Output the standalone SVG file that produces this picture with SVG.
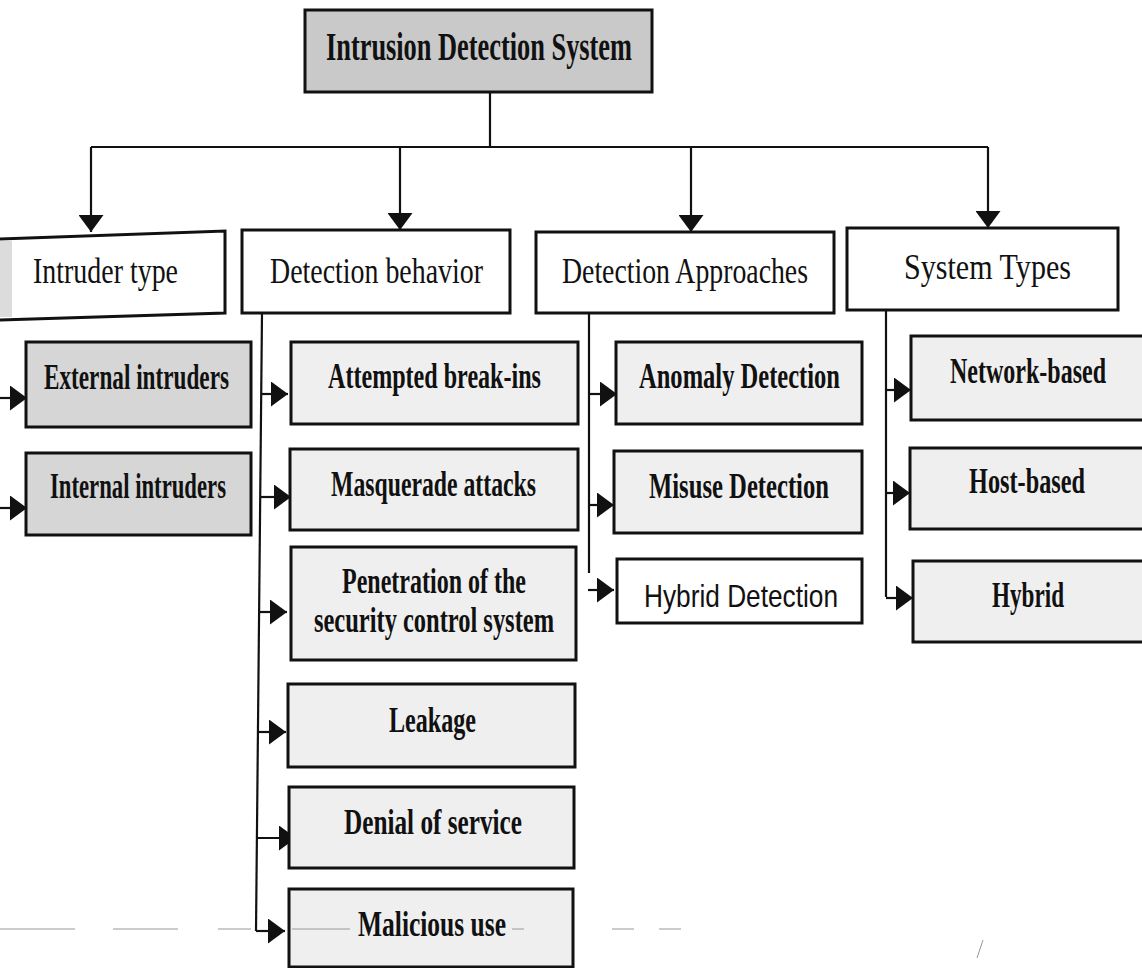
<svg xmlns="http://www.w3.org/2000/svg" width="1142" height="968" viewBox="0 0 1142 968">
<style>
.box{stroke:#111;stroke-width:3;}
.edge{fill:none;stroke:#111;stroke-width:3;}
.top{fill:#c9c9c9;}
.lvl2{fill:#ffffff;}
.gray{fill:#d6d6d6;}
.light{fill:#efefef;}
.t{font-family:"Liberation Serif","Times New Roman",serif;fill:#111;}
.b{font-weight:bold;}
.s{font-family:"Liberation Sans",Arial,sans-serif;fill:#111;}
.c{fill:none;stroke:#111;stroke-width:2.2;}
.scan{fill:none;stroke:#999;stroke-width:1;}
</style>
<defs>
<marker id="ah" markerUnits="userSpaceOnUse" markerWidth="18" markerHeight="25" refX="17" refY="12.5" orient="auto">
<path d="M0,0 L17,12.5 L0,25 z" fill="#111"/>
</marker>
</defs>
<rect width="1142" height="968" fill="#ffffff"/>

<g id="connectors">
<path class="c" d="M490,92 V147 M91,147 H988"/>
<path class="c" d="M91,147 V232" marker-end="url(#ah)"/>
<path class="c" d="M400,147 V230" marker-end="url(#ah)"/>
<path class="c" d="M691,147 V232" marker-end="url(#ah)"/>
<path class="c" d="M988,147 V228" marker-end="url(#ah)"/>
<path class="c" d="M0,398 H27" marker-end="url(#ah)"/>
<path class="c" d="M0,508 H27" marker-end="url(#ah)"/>
<path class="c" d="M262,313 L256,931"/>
<path class="c" d="M262,394 H288" marker-end="url(#ah)"/>
<path class="c" d="M261,497 H291" marker-end="url(#ah)"/>
<path class="c" d="M260,612 H287" marker-end="url(#ah)"/>
<path class="c" d="M259,732 H286" marker-end="url(#ah)"/>
<path class="c" d="M258,838 H296" marker-end="url(#ah)"/>
<path class="c" d="M256,931 H285" marker-end="url(#ah)"/>
<path class="c" d="M589,313 V573"/>
<path class="c" d="M589,394 H617" marker-end="url(#ah)"/>
<path class="c" d="M589,505 H614" marker-end="url(#ah)"/>
<path class="c" d="M588,590 H614" marker-end="url(#ah)"/>
<path class="c" d="M886,310 V597"/>
<path class="c" d="M886,390 H911" marker-end="url(#ah)"/>
<path class="c" d="M886,493 H910" marker-end="url(#ah)"/>
<path class="c" d="M886,598 H913" marker-end="url(#ah)"/>
</g>

<g id="ids">
<rect class="box top" x="305" y="10" width="347" height="82"/>
<text class="t b" x="326" y="60" font-size="40" textLength="306" lengthAdjust="spacingAndGlyphs">Intrusion Detection System</text>
</g>

<g id="intruder-type">
<polygon class="box lvl2" points="-3,239 225,231 225,313 -3,320"/>
<rect x="0" y="241" width="12" height="76" fill="#dcdcdc"/>
<text class="t" x="33" y="283" font-size="35" textLength="145" lengthAdjust="spacingAndGlyphs">Intruder type</text>
</g>
<g id="detection-behavior">
<rect class="box lvl2" x="242" y="230" width="268" height="83"/>
<text class="t" x="270" y="283" font-size="35" textLength="213" lengthAdjust="spacingAndGlyphs">Detection behavior</text>
</g>
<g id="detection-approaches">
<rect class="box lvl2" x="536" y="232" width="298" height="81"/>
<text class="t" x="562" y="283" font-size="35" textLength="246" lengthAdjust="spacingAndGlyphs">Detection Approaches</text>
</g>
<g id="system-types">
<rect class="box lvl2" x="847" y="228" width="271" height="82"/>
<text class="t" x="904" y="279" font-size="35" textLength="167" lengthAdjust="spacingAndGlyphs">System Types</text>
</g>

<g id="external-intruders">
<rect class="box gray" x="26" y="342" width="225" height="85"/>
<text class="t b" x="44" y="389" font-size="35" textLength="185" lengthAdjust="spacingAndGlyphs">External intruders</text>
</g>
<g id="internal-intruders">
<rect class="box gray" x="26" y="453" width="225" height="82"/>
<text class="t b" x="50" y="498" font-size="35" textLength="176" lengthAdjust="spacingAndGlyphs">Internal intruders</text>
</g>

<g id="attempted-break-ins">
<rect class="box light" x="291" y="342" width="287" height="82"/>
<text class="t b" x="328" y="388" font-size="35" textLength="213" lengthAdjust="spacingAndGlyphs">Attempted break-ins</text>
</g>
<g id="masquerade-attacks">
<rect class="box light" x="290" y="449" width="288" height="81"/>
<text class="t b" x="331" y="496" font-size="35" textLength="205" lengthAdjust="spacingAndGlyphs">Masquerade attacks</text>
</g>
<g id="penetration">
<rect class="box light" x="291" y="547" width="285" height="113"/>
<text class="t b" x="342" y="593" font-size="35" textLength="184" lengthAdjust="spacingAndGlyphs">Penetration of the</text>
<text class="t b" x="314" y="632" font-size="35" textLength="240" lengthAdjust="spacingAndGlyphs">security control system</text>
</g>
<g id="leakage">
<rect class="box light" x="288" y="684" width="287" height="83"/>
<text class="t b" x="389" y="732" font-size="35" textLength="87" lengthAdjust="spacingAndGlyphs">Leakage</text>
</g>
<g id="denial-of-service">
<rect class="box light" x="289" y="787" width="285" height="81"/>
<text class="t b" x="344" y="834" font-size="35" textLength="178" lengthAdjust="spacingAndGlyphs">Denial of service</text>
</g>
<g id="malicious-use">
<rect class="box light" x="289" y="889" width="284" height="78"/>
<text class="t b" x="358" y="936" font-size="35" textLength="148" lengthAdjust="spacingAndGlyphs">Malicious use</text>
</g>

<g id="anomaly-detection">
<rect class="box light" x="616" y="342" width="246" height="82"/>
<text class="t b" x="639" y="388" font-size="35" textLength="201" lengthAdjust="spacingAndGlyphs">Anomaly Detection</text>
</g>
<g id="misuse-detection">
<rect class="box light" x="614" y="451" width="248" height="82"/>
<text class="t b" x="649" y="498" font-size="35" textLength="180" lengthAdjust="spacingAndGlyphs">Misuse Detection</text>
</g>
<g id="hybrid-detection">
<rect class="box lvl2" x="617" y="559" width="245" height="64"/>
<text class="s" x="644" y="607" font-size="32" textLength="194" lengthAdjust="spacingAndGlyphs">Hybrid Detection</text>
</g>

<g id="network-based">
<rect class="light" x="911" y="336" width="231" height="84"/>
<path class="edge" d="M1142,336 H911 V420 H1142"/>
<text class="t b" x="950" y="383" font-size="35" textLength="156" lengthAdjust="spacingAndGlyphs">Network-based</text>
</g>
<g id="host-based">
<rect class="light" x="910" y="448" width="232" height="81"/>
<path class="edge" d="M1142,448 H910 V529 H1142"/>
<text class="t b" x="969" y="493" font-size="35" textLength="116" lengthAdjust="spacingAndGlyphs">Host-based</text>
</g>
<g id="hybrid">
<rect class="light" x="913" y="561" width="229" height="81"/>
<path class="edge" d="M1142,561 H913 V642 H1142"/>
<text class="t b" x="992" y="607" font-size="35" textLength="72" lengthAdjust="spacingAndGlyphs">Hybrid</text>
</g>

<g id="scan-marks">
<path class="scan" d="M0,929 H75 M113,929 H178 M218,929 H251 M292,929 H350 M512,929 H524 M612,929 H634 M659,929 H681"/>
<path class="scan" d="M983,940 L977,958"/>
</g>
</svg>
